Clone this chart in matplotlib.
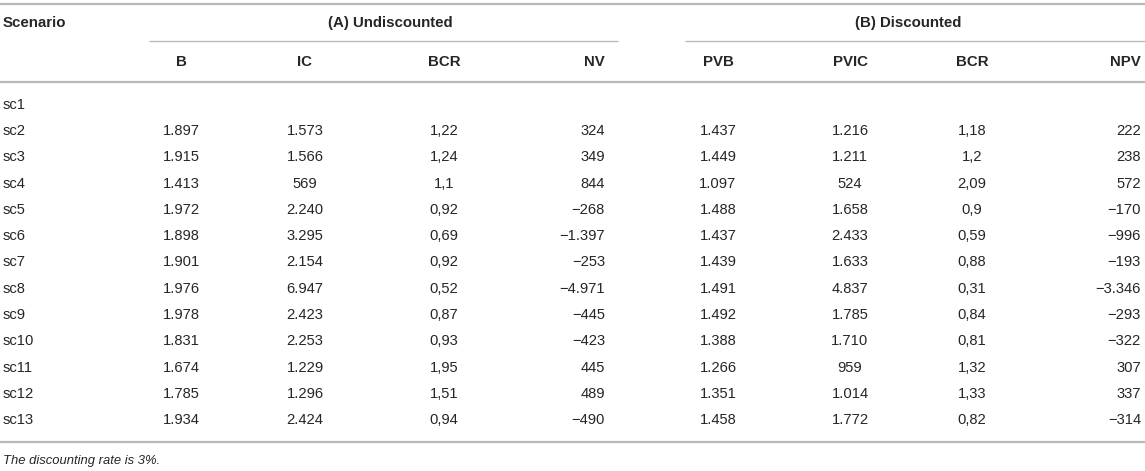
import matplotlib
matplotlib.use("Agg")
import matplotlib.pyplot as plt

plt.rcParams['font.family'] = ['Liberation Sans', 'DejaVu Sans']

scenarios = ["sc1", "sc2", "sc3", "sc4", "sc5", "sc6", "sc7", "sc8", "sc9", "sc10", "sc11", "sc12", "sc13"]
B    = [None, 1897, 1915, 1413, 1972, 1898, 1901, 1976, 1978, 1831, 1674, 1785, 1934]
IC   = [None, 1573, 1566, 569, 2240, 3295, 2154, 6947, 2423, 2253, 1229, 1296, 2424]
BCR_A = [None, 1.22, 1.24, 1.1, 0.92, 0.69, 0.92, 0.52, 0.87, 0.93, 1.95, 1.51, 0.94]
NV   = [None, 324, 349, 844, -268, -1397, -253, -4971, -445, -423, 445, 489, -490]
PVB  = [None, 1437, 1449, 1097, 1488, 1437, 1439, 1491, 1492, 1388, 1266, 1351, 1458]
PVIC = [None, 1216, 1211, 524, 1658, 2433, 1633, 4837, 1785, 1710, 959, 1014, 1772]
BCR_B = [None, 1.18, 1.2, 2.09, 0.9, 0.59, 0.88, 0.31, 0.84, 0.81, 1.32, 1.33, 0.82]
NPV  = [None, 222, 238, 572, -170, -996, -193, -3346, -293, -322, 307, 337, -314]

group_labels = ["(A) Undiscounted", "(B) Discounted"]
col_labels = ["B", "IC", "BCR", "NV", "PVB", "PVIC", "BCR", "NPV"]
footnote = "The discounting rate is 3%."


def fmt_int(v):
    if v is None:
        return ""
    s = f"{abs(v):,}".replace(",", ".")
    return ("\u2212" + s) if v < 0 else s


def fmt_ratio(v):
    if v is None:
        return ""
    return f"{v:g}".replace(".", ",")


columns = [
    (B, fmt_int), (IC, fmt_int), (BCR_A, fmt_ratio), (NV, fmt_int),
    (PVB, fmt_int), (PVIC, fmt_int), (BCR_B, fmt_ratio), (NPV, fmt_int),
]

W, H = 1145, 471
fig = plt.figure(figsize=(W / 100, H / 100), dpi=100)
ax = fig.add_axes([0, 0, 1, 1])
ax.set_xlim(0, W)
ax.set_ylim(H, 0)
ax.axis("off")

txt = "#262626"
line_c = "#b8b8b8"
fs = 10.6
fsh = 10.8

# column anchor x and alignment
col_x = [181, 305, 444, 605, 718, 850, 972, 1141]
col_ha = ["center", "center", "center", "right", "center", "center", "center", "right"]

# lines
ax.plot([0, W], [4, 4], color=line_c, lw=1.6, solid_capstyle="butt")
ax.plot([149, 618], [41, 41], color=line_c, lw=1.0, solid_capstyle="butt")
ax.plot([685, W], [41, 41], color=line_c, lw=1.0, solid_capstyle="butt")
ax.plot([0, W], [82, 82], color=line_c, lw=1.6, solid_capstyle="butt")
ax.plot([0, W], [442, 442], color=line_c, lw=1.6, solid_capstyle="butt")

# header
ax.text(3, 23, "Scenario", ha="left", va="center", fontsize=fsh, fontweight="bold", color=txt)
ax.text(390, 23, group_labels[0], ha="center", va="center", fontsize=fsh, fontweight="bold", color=txt)
ax.text(908, 23, group_labels[1], ha="center", va="center", fontsize=fsh, fontweight="bold", color=txt)
for lab, x, ha in zip(col_labels, col_x, col_ha):
    ax.text(x, 62, lab, ha=ha, va="center", fontsize=fsh, fontweight="bold", color=txt)

# rows
row0, dy = 104.6, 26.3
for i, sc in enumerate(scenarios):
    y = row0 + i * dy
    ax.text(3, y, sc, ha="left", va="center", fontsize=fs, color=txt)
    for (vals, f), x, ha in zip(columns, col_x, col_ha):
        ax.text(x, y, f(vals[i]), ha=ha, va="center", fontsize=fs, color=txt)

ax.text(3, 461, footnote, ha="left", va="center", fontsize=9.4, style="italic", color=txt)

fig.savefig("out.png", dpi=100)
